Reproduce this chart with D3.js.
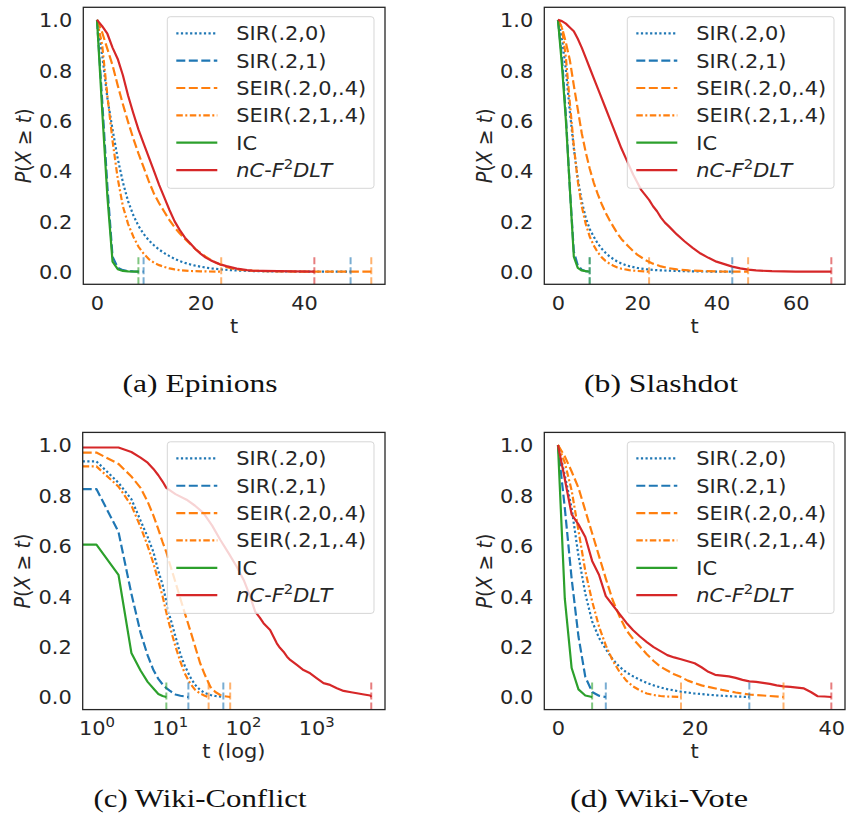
<!DOCTYPE html>
<html><head><meta charset="utf-8">
<script src="https://cdn.jsdelivr.net/npm/d3@7"></script>
<style>body{margin:0;background:#fff} svg{display:block}</style>
</head><body><svg id="c" width="846" height="832"></svg>
<script>
// ---------- data ----------
const seriesNames = ["SIR(.2,0)","SIR(.2,1)","SEIR(.2,0,.4)","SEIR(.2,1,.4)","IC","nC-F2DLT"];
const captions = ["(a) Epinions","(b) Slashdot","(c) Wiki-Conflict","(d) Wiki-Vote"];
const yTicks = [0,0.2,0.4,0.6,0.8,1.0];
const xTicksA = [0,20,40];
const xTicksB = [0,20,40,60];
const xTicksC = [1,10,100,1000];
const xTicksD = [0,20,40];

// (a) Epinions
const epSIR0 = [[0,1],[1,0.86],[2,0.69],[3,0.565],[4,0.45],[5,0.355],[6,0.28],[7,0.225],[8,0.182],[9,0.15],[10,0.125],[11,0.105],[12,0.088],[13,0.074],[14,0.062],[15,0.051],[16,0.042],[17,0.035],[18,0.029],[19,0.024],[20,0.02],[22,0.013],[24,0.009],[26,0.006],[28,0.004],[31,0.002],[35,0.001],[40,0.0005],[49,0]];
const epSIR1 = [[0,1],[1,0.68],[2,0.34],[3,0.06],[4,0.016],[5,0.006],[6,0.003],[7,0.001],[9,0]];
const epSEIR0 = [[0,1],[1,0.95],[2,0.885],[3,0.82],[4,0.74],[5,0.665],[6,0.595],[7,0.53],[8,0.47],[9,0.415],[10,0.36],[11,0.31],[12,0.272],[13,0.238],[14,0.205],[15,0.176],[16,0.152],[17,0.13],[18,0.11],[19,0.09],[20,0.074],[21,0.06],[22,0.047],[23,0.036],[24,0.027],[25,0.019],[26,0.013],[28,0.007],[30,0.004],[33,0.002],[36,0.001],[40,0.0004],[53,0]];
const epSEIR1 = [[0,1],[1,0.9],[2,0.7],[3,0.52],[4,0.37],[5,0.26],[6,0.19],[7,0.14],[8,0.1],[9,0.072],[10,0.05],[11,0.036],[12,0.026],[13,0.019],[14,0.013],[15,0.009],[16,0.006],[18,0.003],[20,0.0015],[24,0]];
const epIC = [[0,1],[1,0.64],[2,0.3],[3,0.04],[4,0.01],[5,0.003],[6,0.001],[8,0]];
const epNC = [[0,1],[1,0.975],[2,0.945],[3,0.89],[4,0.845],[5,0.78],[6,0.7],[7,0.63],[8,0.565],[9,0.51],[10,0.455],[11,0.4],[12,0.345],[13,0.295],[14,0.245],[15,0.2],[16,0.165],[17,0.135],[18,0.113],[19,0.09],[20,0.072],[21,0.056],[22,0.045],[23,0.036],[24,0.028],[25,0.022],[26,0.017],[27,0.012],[28,0.009],[29,0.006],[30,0.004],[32,0.003],[35,0.002],[38,0.001],[42,0]];

// (b) Slashdot
const slSIR0 = [[0,1],[1,0.93],[2,0.8],[3,0.635],[4,0.49],[5,0.37],[6,0.28],[7,0.215],[8,0.17],[9,0.14],[10,0.113],[11,0.092],[12,0.075],[13,0.061],[14,0.05],[15,0.04],[16,0.033],[17,0.027],[18,0.022],[20,0.015],[22,0.01],[25,0.006],[28,0.004],[32,0.002],[36,0.001],[44,0]];
const slSIR1 = [[0,1],[1,0.85],[2,0.62],[3,0.33],[4,0.08],[5,0.025],[6,0.008],[7,0.002],[8,0]];
const slSEIR0 = [[0,1],[1,0.97],[2,0.91],[3,0.84],[4,0.74],[5,0.645],[6,0.55],[7,0.475],[8,0.41],[9,0.355],[10,0.31],[11,0.27],[12,0.235],[13,0.205],[14,0.178],[15,0.152],[16,0.13],[17,0.113],[18,0.097],[19,0.082],[20,0.068],[22,0.047],[24,0.032],[26,0.021],[28,0.014],[30,0.009],[33,0.005],[36,0.003],[40,0.001],[48,0]];
const slSEIR1 = [[0,1],[1,0.97],[2,0.85],[3,0.67],[4,0.5],[5,0.36],[6,0.26],[7,0.19],[8,0.14],[9,0.105],[10,0.078],[11,0.058],[12,0.043],[13,0.032],[14,0.024],[15,0.017],[16,0.012],[18,0.006],[20,0.003],[23,0]];
const slIC = [[0,1],[1,0.82],[2,0.6],[3,0.33],[4,0.06],[5,0.015],[6,0.005],[7,0.002],[8,0]];
const slNC = [[0,1],[1,0.995],[2,0.985],[3,0.97],[4,0.955],[5,0.925],[6,0.89],[7,0.85],[8,0.81],[9,0.77],[10,0.73],[11,0.69],[12,0.65],[13,0.61],[14,0.57],[15,0.53],[16,0.49],[17,0.455],[18,0.42],[19,0.385],[20,0.355],[21,0.325],[22,0.305],[23,0.285],[24,0.26],[25,0.24],[26,0.215],[27,0.195],[28,0.18],[30,0.148],[32,0.12],[34,0.095],[36,0.072],[38,0.055],[40,0.04],[42,0.03],[44,0.02],[46,0.013],[48,0.008],[50,0.005],[54,0.002],[60,0.0005],[69,0]];

// (c) Wiki-Conflict (log t)
const wcSIR0 = [[1,0.935],[2,0.85],[3,0.785],[4,0.7],[5,0.635],[6,0.575],[7,0.5],[8,0.445],[9,0.38],[10,0.322],[12,0.24],[14,0.17],[16,0.125],[19,0.08],[22,0.05],[26,0.028],[30,0.016],[36,0.008],[42,0.004],[54,0]];
const wcSIR1 = [[1,0.825],[2,0.655],[3,0.41],[4,0.255],[5,0.165],[6,0.107],[7,0.072],[8,0.05],[9,0.035],[10,0.025],[12,0.01],[14,0.005],[18,0]];
const wcSEIR0 = [[1,0.97],[2,0.925],[3,0.875],[4,0.83],[5,0.775],[6,0.72],[7,0.665],[8,0.615],[9,0.575],[10,0.53],[12,0.455],[14,0.39],[16,0.335],[19,0.266],[22,0.205],[26,0.135],[30,0.09],[36,0.04],[42,0.02],[49,0.008],[56,0.003],[67,0]];
const wcSEIR1 = [[1,0.915],[2,0.835],[3,0.76],[4,0.675],[5,0.6],[6,0.53],[7,0.46],[8,0.4],[9,0.335],[10,0.283],[12,0.2],[14,0.14],[16,0.095],[19,0.054],[22,0.03],[26,0.014],[30,0.005],[34,0]];
const wcIC = [[1,0.605],[2,0.485],[3,0.175],[4,0.105],[5,0.06],[6,0.034],[7,0.012],[8,0.004],[9,0]];
const wcNC = [[1,0.99],[2,0.99],[3,0.972],[4,0.95],[5,0.93],[6,0.905],[7,0.88],[8,0.855],[9,0.83],[12,0.805],[17,0.783],[22,0.76],[29,0.73],[38,0.68],[49,0.624],[64,0.57],[82,0.518],[104,0.46],[125,0.4],[147,0.339],[170,0.315],[191,0.293],[235,0.266],[290,0.213],[320,0.195],[358,0.18],[400,0.16],[442,0.147],[545,0.127],[671,0.107],[828,0.094],[1023,0.074],[1259,0.055],[1550,0.048],[1919,0.035],[2366,0.024],[3000,0.019],[3605,0.015],[4500,0.01],[5470,0.006],[5650,0]];

// (d) Wiki-Vote
const wvSIR0 = [[0,1],[1,0.88],[2,0.75],[3,0.56],[4,0.41],[5,0.3],[6,0.235],[7,0.19],[8,0.15],[9,0.12],[10,0.098],[11,0.082],[12,0.068],[13,0.056],[14,0.046],[15,0.038],[16,0.031],[17,0.026],[18,0.021],[20,0.014],[22,0.009],[24,0.005],[26,0.002],[28,0]];
const wvSIR1 = [[0,1],[1,0.75],[2,0.47],[3,0.24],[4,0.08],[5,0.02],[6,0.005],[7,0]];
const wvSEIR0 = [[0,1],[1,0.955],[2,0.895],[3,0.83],[4,0.74],[5,0.65],[6,0.56],[7,0.47],[8,0.385],[9,0.32],[10,0.265],[11,0.23],[12,0.2],[13,0.17],[14,0.143],[15,0.12],[16,0.105],[17,0.09],[18,0.079],[19,0.065],[20,0.055],[21,0.046],[22,0.04],[24,0.028],[26,0.018],[28,0.01],[30,0.006],[33,0]];
const wvSEIR1 = [[0,1],[1,0.93],[2,0.82],[3,0.66],[4,0.5],[5,0.38],[6,0.28],[7,0.205],[8,0.145],[9,0.1],[10,0.065],[11,0.042],[12,0.026],[13,0.014],[14,0.008],[15,0.004],[16,0.002],[18,0]];
const wvIC = [[0,1],[1,0.39],[2,0.115],[3,0.03],[4,0.006],[5,0]];
const wvNC = [[0,1],[1,0.865],[2,0.725],[3,0.685],[4,0.635],[5,0.54],[6,0.485],[7,0.4],[8,0.365],[9,0.33],[10,0.295],[11,0.265],[12,0.24],[13,0.218],[14,0.198],[15,0.182],[16,0.166],[17,0.157],[18,0.15],[19,0.142],[20,0.134],[21,0.118],[22,0.1],[23,0.088],[24,0.085],[25,0.082],[26,0.076],[27,0.068],[28,0.062],[29,0.06],[30,0.056],[31,0.052],[32,0.046],[33,0.042],[34,0.04],[35,0.037],[36,0.034],[37,0.02],[38,0.003],[39,0.002],[40,0]];

// ---------- styles ----------
const seriesColors = ["#1f77b4","#1f77b4","#ff7f0e","#ff7f0e","#2ca02c","#d62728"];
const seriesDash = ["2.2,2.4","9,3.5","9,3.5","6.5,2.5,2,2.5",null,null];
const SX = 1.1, LW = 2.2, FS = 19;
const FONT = "'DejaVu Sans', sans-serif";
const TXT = "#262626";

const panels = [
  {series:[epSIR0,epSIR1,epSEIR0,epSEIR1,epIC,epNC], left:83.3,right:385,top:7.3,bottom:284.3, log:false, ticks:xTicksA, xlabel:"t", cap:captions[0], capX:200, capY:391.5, capW:155},
  {series:[slSIR0,slSIR1,slSEIR0,slSEIR1,slIC,slNC], left:544.3,right:845,top:7.3,bottom:284.3, log:false, ticks:xTicksB, xlabel:"t", cap:captions[1], capX:661, capY:391.5, capW:154},
  {series:[wcSIR0,wcSIR1,wcSEIR0,wcSEIR1,wcIC,wcNC], left:82.7,right:385,top:432.4,bottom:709.6, log:true, ticks:xTicksC, xlabel:"t (log)", cap:captions[2], capX:200, capY:806.5, capW:213},
  {series:[wvSIR0,wvSIR1,wvSEIR0,wvSEIR1,wvIC,wvNC], left:544.3,right:845,top:432.4,bottom:709.6, log:false, ticks:xTicksD, xlabel:"t", cap:captions[3], capX:659, capY:806.5, capW:178}
];

const svg = d3.select("#c");
svg.append("rect").attr("width",846).attr("height",832).attr("fill","#fff");

panels.forEach((P, pi) => {
  const tMax = d3.max(P.series, s => d3.max(s, d => d[0]));
  let x;
  if (P.log) {
    const lo = Math.log10(d3.min(P.series, s => d3.min(s, d => d[0])));
    const hi = Math.log10(tMax);
    const m = (hi - lo) * 0.05;
    x = d3.scaleLog().domain([Math.pow(10, lo - m), Math.pow(10, hi + m)]).range([P.left, P.right]);
  } else {
    const m = tMax * 0.05;
    x = d3.scaleLinear().domain([-m, tMax + m]).range([P.left, P.right]);
  }
  const y = d3.scaleLinear().domain([-0.05, 1.05]).range([P.bottom, P.top]);

  const clipId = "clip" + pi;
  svg.append("clipPath").attr("id", clipId).append("rect")
    .attr("x", P.left).attr("y", P.top).attr("width", P.right - P.left).attr("height", P.bottom - P.top);

  const gl = svg.append("g").attr("clip-path", `url(#${clipId})`);
  const line = d3.line().x(d => x(d[0])).y(d => y(d[1]));

  P.series.forEach((s, i) => {
    const pts = P.log ? [[x.domain()[0], s[0][1]], ...s] : s;
    gl.append("path").attr("d", line(pts)).attr("fill", "none")
      .attr("stroke", seriesColors[i]).attr("stroke-width", LW)
      .attr("stroke-linejoin", "round")
      .attr("stroke-dasharray", seriesDash[i]);
  });
  // max-t markers
  const h = P.bottom - P.top;
  P.series.forEach((s, i) => {
    const tm = d3.max(s, d => d[0]);
    gl.append("line").attr("x1", x(tm)).attr("x2", x(tm))
      .attr("y1", P.bottom).attr("y2", P.bottom - 0.1 * h)
      .attr("stroke", seriesColors[i]).attr("stroke-width", 2)
      .attr("stroke-opacity", 0.6).attr("stroke-dasharray", "7,3");
  });

  // frame
  svg.append("rect").attr("x", P.left).attr("y", P.top)
    .attr("width", P.right - P.left).attr("height", h)
    .attr("fill", "none").attr("stroke", TXT).attr("stroke-width", 1.3);

  // x axis
  const xa = d3.axisBottom(x).tickValues(P.ticks).tickSize(0).tickPadding(0)
    .tickFormat(P.log ? (() => "") : d3.format("d"));
  const gx = svg.append("g").attr("transform", `translate(0,${P.bottom})`).call(xa);
  gx.select(".domain").remove();
  gx.selectAll("text").attr("y", null).attr("dy", null)
    .attr("transform", `translate(0,25.7) scale(${SX},1)`)
    .attr("font-family", FONT).attr("font-size", FS).attr("fill", TXT);
  if (P.log) {
    gx.selectAll("text").each(function(d) {
      const t = d3.select(this);
      t.text(null);
      t.append("tspan").text("10");
      t.append("tspan").attr("dy", -8).attr("font-size", 13.5).text(Math.round(Math.log10(d)));
    });
  }

  // y axis
  const ya = d3.axisLeft(y).tickValues(yTicks).tickSize(0).tickPadding(0).tickFormat(d3.format(".1f"));
  const gy = svg.append("g").attr("transform", `translate(${P.left},0)`).call(ya);
  gy.select(".domain").remove();
  gy.selectAll("text").attr("x", null).attr("dy", "0.36em")
    .attr("transform", `translate(-11,0) scale(${SX},1)`)
    .attr("font-family", FONT).attr("font-size", FS).attr("fill", TXT).attr("text-anchor", "end");

  // x label
  svg.append("text").attr("transform", `translate(${(P.left + P.right) / 2},${P.bottom + 48.6}) scale(${SX},1)`)
    .attr("text-anchor", "middle").attr("font-family", FONT).attr("font-size", FS).attr("fill", TXT)
    .text(P.xlabel);

  // y label
  const yl = svg.append("text")
    .attr("transform", `translate(${P.left - 52.7},${(P.top + P.bottom) / 2}) scale(${SX},1) rotate(-90)`)
    .attr("text-anchor", "middle").attr("font-family", FONT).attr("font-size", FS).attr("fill", TXT);
  yl.append("tspan").attr("font-style", "italic").text("P");
  yl.append("tspan").text("(");
  yl.append("tspan").attr("font-style", "italic").text("X");
  yl.append("tspan").text(" ≥ ");
  yl.append("tspan").attr("font-style", "italic").text("t");
  yl.append("tspan").text(")");

  // legend
  const LWd = 206.7, LHt = 171.6;
  const lx = P.right - 11 - LWd, ly = P.top + 9.4;
  const lg = svg.append("g");
  lg.append("rect").attr("x", lx).attr("y", ly).attr("width", LWd).attr("height", LHt)
    .attr("rx", 3).attr("fill", "#fff").attr("fill-opacity", 0.8)
    .attr("stroke", "#cccccc").attr("stroke-opacity", 0.8).attr("stroke-width", 1);
  seriesNames.forEach((name, i) => {
    const cy = ly + 16.6 + i * 27.35;
    lg.append("line").attr("x1", lx + 9).attr("x2", lx + 50).attr("y1", cy).attr("y2", cy)
      .attr("stroke", seriesColors[i]).attr("stroke-width", LW).attr("stroke-dasharray", seriesDash[i]);
    const tx = lg.append("text").attr("transform", `translate(${lx + 69},${cy}) scale(${SX},1)`)
      .attr("dy", "0.36em").attr("font-family", FONT).attr("font-size", FS).attr("fill", TXT);
    if (name === "nC-F2DLT") {
      tx.append("tspan").attr("font-style", "italic").text("nC");
      tx.append("tspan").text("-");
      tx.append("tspan").attr("font-style", "italic").text("F");
      tx.append("tspan").attr("dy", -8).attr("font-size", 13.5).text("2");
      tx.append("tspan").attr("dy", 8).attr("font-style", "italic").text("DLT");
    } else {
      tx.text(name);
    }
  });

  // caption
  svg.append("text").attr("x", P.capX).attr("y", P.capY)
    .attr("text-anchor", "middle").attr("font-family", "'Liberation Serif', serif")
    .attr("font-size", 26).attr("fill", "#111")
    .attr("textLength", P.capW).attr("lengthAdjust", "spacingAndGlyphs")
    .text(P.cap);
});
</script></body></html>
